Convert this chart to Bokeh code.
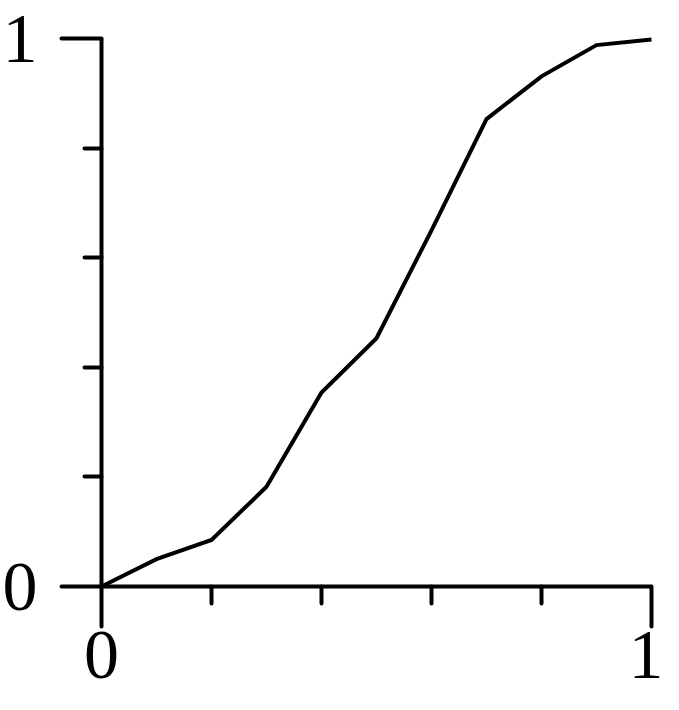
from bokeh.plotting import figure
from bokeh.models import FixedTicker, Range1d
from bokeh.embed import file_html
from bokeh.resources import INLINE

# data
x_vals = [0.0, 0.1, 0.2, 0.3, 0.4, 0.5, 0.6, 0.7, 0.8, 0.9, 1.0]
y_vals = [0.0, 0.050, 0.085, 0.182, 0.354, 0.453, 0.650, 0.853, 0.931, 0.988, 0.998]
major_ticks = [0, 1]
minor_ticks = [0.2, 0.4, 0.6, 0.8]

FONT = "Liberation Serif"

# frame fills the canvas; data 0..1 maps to x 101..651 px and y 586..38 px
X0, X1, W = 101.0, 651.0, 663
Y0, Y1, H = 586.0, 38.0, 694
sx = X1 - X0
sy = Y0 - Y1
x_range = Range1d(-X0 / sx, (W - X0) / sx)
y_range = Range1d((Y0 - H) / sy, Y0 / sy)

p = figure(width=W, height=H, output_backend="svg", toolbar_location=None,
           x_range=x_range, y_range=y_range, min_border=0)

p.line(x_vals, y_vals, line_color="black", line_width=4, line_join="miter")

p.grid.visible = False
p.outline_line_color = None
p.background_fill_color = "white"
p.border_fill_color = "white"

for ax in (p.xaxis[0], p.yaxis[0]):
    ax.fixed_location = 0
    ax.bounds = (0, 1)
    ax.ticker = FixedTicker(ticks=major_ticks, minor_ticks=minor_ticks)
    ax.axis_line_color = "black"
    ax.axis_line_width = 4
    ax.major_tick_line_color = "black"
    ax.major_tick_line_width = 4
    ax.major_tick_line_cap = "round"
    ax.minor_tick_line_color = "black"
    ax.minor_tick_line_width = 4
    ax.minor_tick_line_cap = "round"
    ax.major_tick_in = 0
    ax.major_tick_out = 40
    ax.minor_tick_in = 0
    ax.minor_tick_out = 17
    ax.major_label_text_font = FONT
    ax.major_label_text_font_size = "70px"
    ax.major_label_text_color = "black"

p.xaxis[0].major_label_standoff = 5
p.yaxis[0].major_label_standoff = 24

open("out.html", "w").write(file_html(p, INLINE))
